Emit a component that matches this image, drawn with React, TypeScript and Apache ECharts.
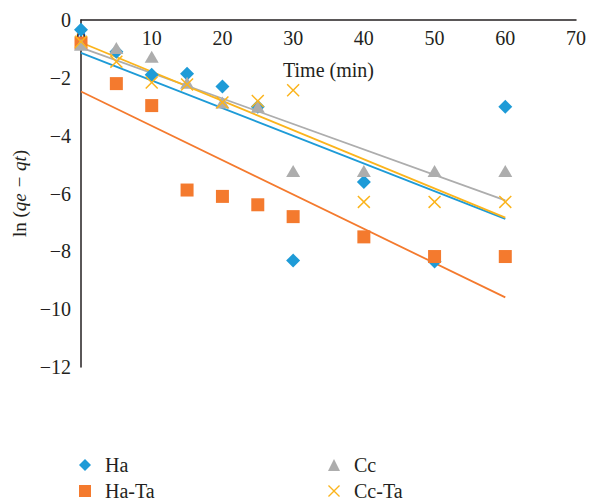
import React, { useEffect, useRef } from "react";
import * as echarts from "echarts";

const timeValues = [0, 5, 10, 15, 20, 25, 30, 40, 50, 60];
const haValues = [-0.34, -1.1, -1.89, -1.86, -2.3, -3.0, -8.32, -5.6, -8.35, -3.0];
const haTaValues = [-0.8, -2.2, -2.96, -5.88, -6.1, -6.39, -6.8, -7.5, -8.18, -8.18];
const ccValues = [-0.86, -0.97, -1.27, -2.17, -2.85, -3.0, -5.22, -5.22, -5.22, -5.22];
const ccTaValues = [-0.75, -1.44, -2.16, -2.23, -2.85, -2.8, -2.43, -6.29, -6.29, -6.29];

const seriesNames = ["Ha", "Ha-Ta", "Cc", "Cc-Ta"];
const colors = ["#1E9BD7", "#F47A2E", "#ADADAD", "#FBB41C"];

const FONT = "'Liberation Serif', 'DejaVu Serif', serif";
const X_SYMBOL =
  "path://M8,0 L50,42 L92,0 L100,8 L58,50 L100,92 L92,100 L50,58 L8,100 L0,92 L42,50 L0,8 Z";

function fit(xs: number[], ys: number[]) {
  const n = xs.length;
  const mx = xs.reduce((a, b) => a + b, 0) / n;
  const my = ys.reduce((a, b) => a + b, 0) / n;
  let sxy = 0;
  let sxx = 0;
  for (let i = 0; i < n; i++) {
    sxy += (xs[i] - mx) * (ys[i] - my);
    sxx += (xs[i] - mx) * (xs[i] - mx);
  }
  const m = sxy / sxx;
  const b = my - m * mx;
  const x0 = Math.min(...xs);
  const x1 = Math.max(...xs);
  return [
    [x0, b + m * x0],
    [x1, b + m * x1],
  ];
}

export default function App() {
  const ref = useRef<HTMLDivElement>(null);
  useEffect(() => {
    if (!ref.current) return;
    const chart = echarts.init(ref.current, null, { renderer: "svg" });
    const all = [haValues, haTaValues, ccValues, ccTaValues];
    const symbols = ["diamond", "rect", "triangle", X_SYMBOL];
    const sizes = [14, 13, [14, 12], 13];
    const lineSeries = all.map((vals, i) => ({
      type: "line",
      name: seriesNames[i] + " trend",
      data: fit(timeValues, vals),
      showSymbol: false,
      symbol: "none",
      lineStyle: { color: colors[i], width: 1.8 },
      z: 2,
      silent: true,
    }));
    const scatterSeries = all.map((vals, i) => ({
      type: "scatter",
      name: seriesNames[i],
      data: timeValues.map((t, j) => [t, vals[j]]),
      symbol: symbols[i],
      symbolSize: sizes[i],
      itemStyle: { color: colors[i], opacity: 1 },
      z: 3,
    }));
    const legendItem = (name: string, left: number, top: number) => ({
      orient: "horizontal",
      left,
      top,
      padding: 0,
      itemWidth: 12,
      itemHeight: 12,
      data: [name],
      textStyle: {
        fontFamily: FONT,
        fontSize: 20,
        color: "#231F20",
        padding: [0, 0, 0, 9],
      },
    });
    chart.setOption({
      animation: false,
      backgroundColor: "#ffffff",
      grid: { left: 81, right: 14, top: 20, bottom: 135, outerBoundsMode: "none" },
      legend: [
        legendItem("Ha", 79, 455),
        legendItem("Ha-Ta", 79, 481),
        legendItem("Cc", 328, 455),
        legendItem("Cc-Ta", 328, 481),
      ],
      graphic: [
        {
          type: "text",
          x: 328.5,
          y: 70,
          style: {
            text: "Time (min)",
            fontFamily: FONT,
            fontSize: 20,
            fill: "#231F20",
            textAlign: "center",
            textVerticalAlign: "middle",
          },
        },
      ],
      xAxis: {
        type: "value",
        position: "top",
        min: 0,
        max: 70,
        interval: 10,
        axisLine: { onZero: false, lineStyle: { color: "#231F20", width: 1.5 } },
        axisTick: { show: false },
        splitLine: { show: false },
        axisLabel: {
          inside: true,
          margin: 8,
          fontFamily: FONT,
          fontSize: 20,
          color: "#231F20",
        },
      },
      yAxis: {
        type: "value",
        min: -12,
        max: 0,
        interval: 2,
        name: "{n|ln (}{i|qe − qt}{n|)}",
        nameLocation: "middle",
        nameGap: 52,
        nameTextStyle: {
          rich: {
            n: { fontFamily: FONT, fontSize: 19, color: "#231F20" },
            i: { fontFamily: FONT, fontSize: 19, fontStyle: "italic", color: "#231F20" },
          },
        },
        axisLine: { show: true, onZero: false, lineStyle: { color: "#231F20", width: 1.5 } },
        axisTick: { show: false },
        splitLine: { show: false },
        axisLabel: {
          margin: 10,
          fontFamily: FONT,
          fontSize: 20,
          color: "#231F20",
          formatter: (v: number) => String(v).replace("-", "\u2212"),
        },
      },
      series: [...lineSeries, ...scatterSeries],
    });
    return () => chart.dispose();
  }, []);
  return (
    <div
      ref={ref}
      style={{ position: "absolute", left: 0, top: 0, width: 590, height: 502 }}
    />
  );
}
